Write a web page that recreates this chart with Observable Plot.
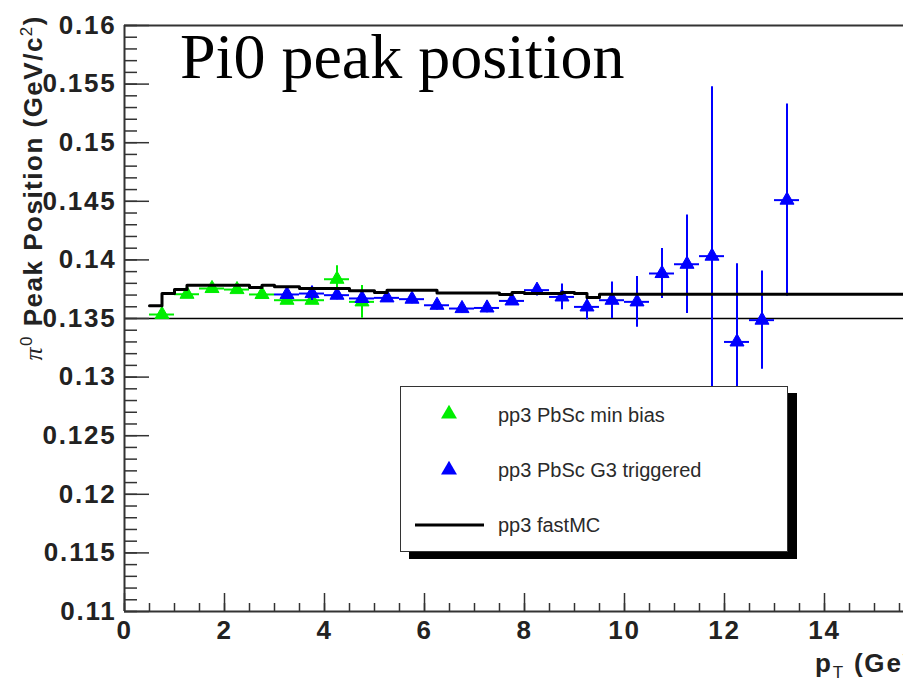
<!DOCTYPE html>
<html><head><meta charset="utf-8">
<script src="https://cdn.jsdelivr.net/npm/d3@7"></script>
<script src="https://cdn.jsdelivr.net/npm/@observablehq/plot@0.6"></script>
<style>
body{margin:0;background:#fff;}
#wrap{position:relative;width:903px;height:684px;overflow:hidden;}
#wrap svg{display:block;}
g[aria-label$="tick label"] text{letter-spacing:1.8px;}
#legend{position:absolute;left:400px;top:386px;width:386px;height:164px;border:1.5px solid #333;background:#fff;box-shadow:9px 7px 0 #000;}
#legend svg{position:absolute;left:0;top:0;}
</style></head><body><div id="wrap"><div id="legend"></div></div>
<script>
// ---- data ----
const minBiasPt  = [0.75, 1.25, 1.75, 2.25, 2.75, 3.25, 3.75, 4.25, 4.75];
const minBiasVal = [0.13534, 0.13707, 0.13756, 0.13747, 0.13705, 0.13656, 0.13656, 0.13835, 0.13642];
const minBiasErr = [0.0003, 0.0003, 0.0003, 0.0003, 0.0003, 0.0003, 0.0003, 0.00115, 0.0014];

const trigPt  = [3.25, 3.75, 4.25, 4.75, 5.25, 5.75, 6.25, 6.75, 7.25, 7.75, 8.25, 8.75, 9.25, 9.75, 10.25, 10.75, 11.25, 11.75, 12.25, 12.75, 13.25];
const trigVal = [0.13705, 0.13713, 0.13699, 0.13671, 0.13676, 0.13665, 0.13613, 0.13585, 0.1359, 0.1365, 0.13742, 0.13684, 0.13599, 0.13656, 0.13642, 0.13884, 0.13963, 0.14032, 0.133, 0.13486, 0.1451];
const trigErr = [0.0004, 0.0006, 0.0004, 0.0004, 0.0004, 0.0004, 0.0004, 0.0004, 0.0004, 0.0004, 0.0005, 0.0011, 0.0011, 0.00156, 0.00216, 0.00213, 0.0042, 0.01445, 0.00668, 0.0042, 0.0082];
const binHalfWidth = 0.25;

const fastMcEdge = [0.5, 0.75, 1.0, 1.25, 2.5, 2.75, 3.0, 3.5, 4.5, 5.0, 5.25, 6.25, 7.5, 7.75, 8.0, 8.75, 9.0, 9.25, 9.5, 15.6];
const fastMcVal  = [0.13608, 0.13713, 0.13747, 0.13784, 0.13764, 0.13784, 0.1377, 0.13756, 0.13736, 0.13722, 0.13741, 0.13717, 0.13705, 0.13722, 0.13713, 0.13722, 0.13713, 0.13679, 0.13707, 0.13707];

const pdgMass = 0.135;

const yTicks = [0.11, 0.115, 0.12, 0.125, 0.13, 0.135, 0.14, 0.145, 0.15, 0.155, 0.16];
const xTicks = [0, 2, 4, 6, 8, 10, 12, 14];
const xDomain = [0, 15.58];
const yDomain = [0.11, 0.16];

const legendLabels = ["pp3 PbSc min bias", "pp3 PbSc G3 triggered", "pp3 fastMC"];
const titleText = "Pi0 peak position";

const greenColor = "#00ee00";
const blueColor = "#0000ff";

// ---- tables ----
const minBias = minBiasPt.map((pt, i) => ({pt, v: minBiasVal[i], e: minBiasErr[i]}));
const trig = trigPt.map((pt, i) => ({pt, v: trigVal[i], e: trigErr[i]}));
const fastMc = fastMcEdge.map((pt, i) => ({pt, v: fastMcVal[i]}));
const yMinor = d3.range(110, 161).map(d => d / 1000);
const xMinor = d3.range(0, 32).map(d => d / 2).filter(d => d <= xDomain[1]);

const W = 903, H = 684, mL = 124, mR = 0, mT = 25, mB = 73;
const plotW = W - mL - mR, plotH = H - mT - mB;

function errMarks(data, color) {
  return [
    Plot.ruleX(data, {x: "pt", y1: d => d.v - d.e, y2: d => d.v + d.e, stroke: color, strokeWidth: 2}),
    Plot.ruleY(data, {y: "v", x1: d => d.pt - binHalfWidth, x2: d => d.pt + binHalfWidth, stroke: color, strokeWidth: 2}),
    Plot.dot(data, {x: "pt", y: "v", symbol: "triangle", r: 5.2, fill: color, stroke: color, strokeWidth: 1})
  ];
}

const chart = Plot.plot({
  width: W, height: H,
  marginLeft: mL, marginRight: mR, marginTop: mT, marginBottom: mB,
  x: {domain: xDomain},
  y: {domain: yDomain},
  style: {fontFamily: "'Liberation Sans', Arial, sans-serif", fontWeight: "bold", fontSize: "25px", color: "#222", background: "#fff", overflow: "visible"},
  marks: [
    Plot.ruleY([pdgMass], {stroke: "#000", strokeWidth: 1.5}),
    ...errMarks(minBias, greenColor),
    ...errMarks(trig, blueColor),
    Plot.line(fastMc, {x: "pt", y: "v", curve: "step-after", stroke: "#000", strokeWidth: 3}),
    Plot.tickY(yTicks, {y: d => d, insetRight: plotW - 25, stroke: "#333", strokeWidth: 1.5}),
    Plot.tickY(yMinor, {y: d => d, insetRight: plotW - 13, stroke: "#333", strokeWidth: 1.5}),
    Plot.tickX(xTicks, {x: d => d, insetTop: plotH - 18, stroke: "#333", strokeWidth: 1.5}),
    Plot.tickX(xMinor, {x: d => d, insetTop: plotH - 8, stroke: "#333", strokeWidth: 1.5}),
    Plot.ruleX([xDomain[0]], {stroke: "#333", strokeWidth: 2}),
    Plot.ruleY(yDomain, {stroke: "#333", strokeWidth: 2}),
    Plot.axisY({ticks: yTicks, tickSize: 0, tickPadding: 8, tickFormat: d => String(+d.toFixed(3)), label: null, fontSize: 26, fontWeight: "bold"}),
    Plot.axisX({ticks: xTicks, tickSize: 0, tickPadding: 9, tickFormat: d => String(d), label: null, fontSize: 26, fontWeight: "bold"})
  ]
});
document.getElementById("wrap").prepend(chart);

const svg = d3.select(chart);
// title
svg.append("text").attr("x", 180).attr("y", 78).attr("text-anchor", "start")
  .style("font-family", "'Liberation Serif', 'Times New Roman', serif")
  .style("font-size", "64px").style("font-weight", "normal").attr("fill", "#000")
  .text(titleText);

// y label
const yl = svg.append("text").attr("transform", "translate(42,15) rotate(-90)")
  .attr("text-anchor", "end").attr("fill", "#222")
  .style("font-size", "26px").style("font-weight", "bold").style("letter-spacing", "1.5px");
yl.append("tspan").text("π").style("font-family", "'Liberation Serif', serif").style("font-style", "italic").style("font-weight", "normal");
yl.append("tspan").text("0").attr("dy", -10).style("font-size", "17px").style("font-weight", "normal");
yl.append("tspan").text(" Peak Position (GeV/c").attr("dy", 10);
yl.append("tspan").text("2").attr("dy", -10).style("font-size", "17px").style("font-weight", "normal");
yl.append("tspan").text(")").attr("dy", 10);

// x label (cut off at the right edge, as in the reference)
const xl = svg.append("text").attr("x", 815).attr("y", 672).attr("text-anchor", "start").attr("fill", "#222")
  .style("font-size", "26px").style("font-weight", "bold").style("letter-spacing", "1.8px");
xl.append("tspan").text("p");
xl.append("tspan").text("T").attr("dy", 6).style("font-size", "17px").style("font-weight", "normal");
xl.append("tspan").text(" (GeV/c)").attr("dy", -6);

// legend
const lg = d3.select("#legend").append("svg").attr("width", 386).attr("height", 164);
const tri = d3.symbol(d3.symbolTriangle, 110)();
lg.append("path").attr("d", tri).attr("transform", "translate(48,27)").attr("fill", greenColor);
lg.append("path").attr("d", tri).attr("transform", "translate(48,83)").attr("fill", blueColor);
lg.append("line").attr("x1", 14).attr("x2", 83).attr("y1", 138).attr("y2", 138).attr("stroke", "#000").attr("stroke-width", 3);
legendLabels.forEach((t, i) => {
  lg.append("text").attr("x", 97).attr("y", [35, 90, 145][i]).attr("fill", "#2a2a2a")
    .style("font-family", "'Liberation Sans', Arial, sans-serif").style("font-size", "20px").text(t);
});
</script>
</body></html>
